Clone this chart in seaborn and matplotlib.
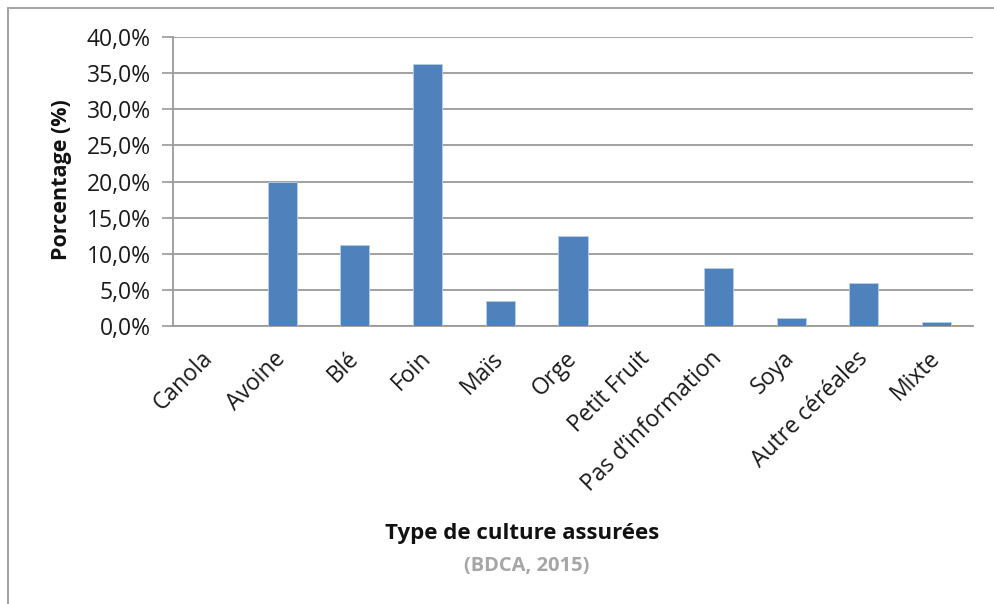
import matplotlib
matplotlib.use("Agg")
import matplotlib.pyplot as plt
import seaborn as sns
import pandas as pd
from matplotlib.lines import Line2D
from matplotlib.ticker import FuncFormatter

categories = ["Canola", "Avoine", "Blé", "Foin", "Maïs", "Orge", "Petit Fruit",
              "Pas d\u2019information", "Soya", "Autre céréales", "Mixte"]
values = [0.0, 20.0, 11.2, 36.2, 3.4, 12.4, 0.0, 8.0, 1.1, 5.9, 0.6]
y_ticks = [0, 5, 10, 15, 20, 25, 30, 35, 40]

df = pd.DataFrame({"cat": categories, "val": values})

sns.set_theme(style="white")
plt.rcParams["font.family"] = ["Open Sans", "DejaVu Sans"]

W, H = 994, 604
fig = plt.figure(figsize=(W / 100, H / 100), dpi=100)
ax = fig.add_axes([173 / W, 1 - 326 / H, (973 - 173) / W, (326 - 37) / H])

sns.barplot(data=df, x="cat", y="val", ax=ax, color="#4f81bd", width=0.4,
            saturation=1, edgecolor="#b9cde5", linewidth=0.6, zorder=3)

ax.set_ylim(0, 40)
ax.set_xlim(-0.5, len(categories) - 0.5)
ax.set_yticks(y_ticks)
ax.yaxis.set_major_formatter(FuncFormatter(lambda v, p: f"{v:.1f}".replace(".", ",") + "%"))
ax.grid(axis="y", color="#9a9a9a", linewidth=1.3, zorder=0)
ax.grid(axis="x", visible=False)
for s in ["top", "right"]:
    ax.spines[s].set_visible(False)
for s in ["left", "bottom"]:
    ax.spines[s].set_color("#9a9a9a")
    ax.spines[s].set_linewidth(1.3)

ax.tick_params(axis="y", which="major", left=True, length=8, width=1.2, color="#9a9a9a",
               labelsize=16.5, labelcolor="#1a1a1a", pad=8)
ax.tick_params(axis="x", bottom=False, labelsize=16.5, labelcolor="#1a1a1a", pad=15)
for lbl in ax.get_xticklabels():
    lbl.set_rotation(45)
    lbl.set_ha("right")
    lbl.set_rotation_mode("anchor")
    lbl.set_va("center")

ax.set_xlabel("")
ax.set_ylabel("")

fig.text(61 / W, 1 - 180 / H, "Porcentage (%)", rotation=90, ha="center", va="center",
         fontsize=15.5, fontweight="bold", color="#111111")
fig.text(522 / W, 1 - 533 / H, "Type de culture assurées", ha="center", va="center",
         fontsize=16, fontweight="bold", color="#111111")
fig.text(527 / W, 1 - 566 / H, "(BDCA, 2015)", ha="center", va="center",
         fontsize=14.5, fontweight="bold", color="#a6a6a6")

# outer frame (left and top edges)
fig.add_artist(Line2D([8 / W, 8 / W], [0, 1 - 8 / H], color="#a6a6a6", linewidth=1.5,
                      transform=fig.transFigure))
fig.add_artist(Line2D([8 / W, 1], [1 - 8 / H, 1 - 8 / H], color="#a6a6a6", linewidth=1.5,
                      transform=fig.transFigure))

fig.savefig("out.png", dpi=100, facecolor="white")
